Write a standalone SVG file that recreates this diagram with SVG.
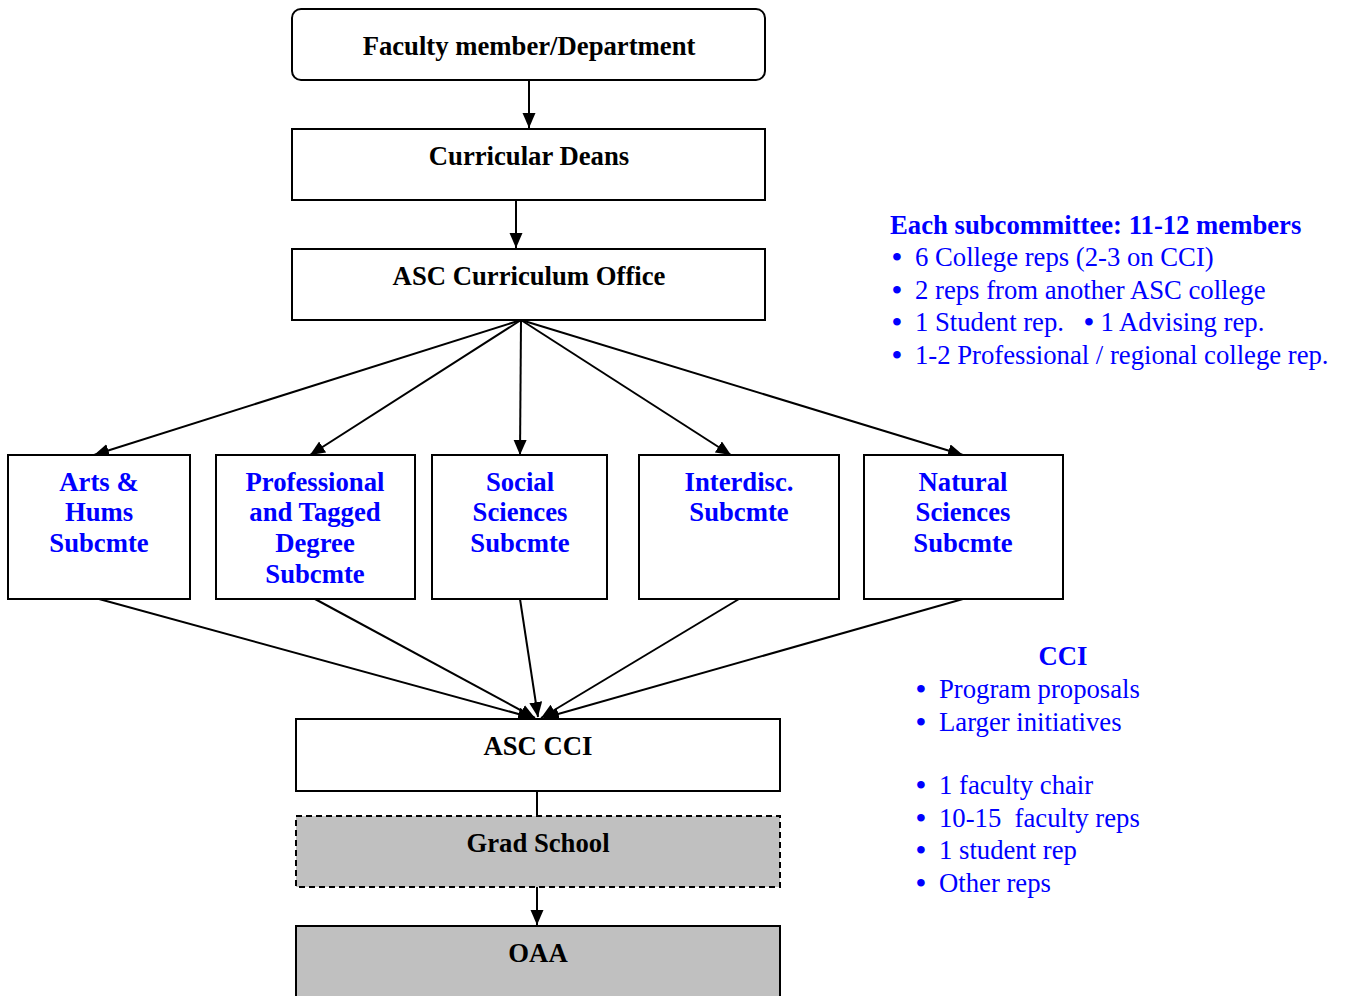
<svg xmlns="http://www.w3.org/2000/svg" width="1345" height="996" viewBox="0 0 1345 996">
<style>
.box{fill:#fff;stroke:#000;stroke-width:2}
.grey{fill:#c0c0c0;stroke:#000;stroke-width:2}
.dash{stroke-dasharray:6,4}
.lbl{font-family:"Liberation Serif","Times New Roman",serif;font-weight:bold;font-size:26.7px;fill:#000;text-anchor:middle}
.blue{fill:#0000ff}
.note{font-family:"Liberation Serif","Times New Roman",serif;font-size:26.7px;fill:#0000ff}
.noteb{font-weight:bold}
.bul{font-size:28px;font-weight:bold}
.conn line{stroke:#000;stroke-width:2;fill:none}
</style>
<defs>
<marker id="ah" markerUnits="userSpaceOnUse" markerWidth="16" markerHeight="14" refX="15" refY="6.5" orient="auto">
<path d="M0,0 L15,6.5 L0,13 z" fill="#000"/>
</marker>
</defs>
<g class="conn" id="connectors">
<line x1="529" y1="80" x2="529" y2="128" marker-end="url(#ah)"/>
<line x1="516" y1="200" x2="516" y2="248" marker-end="url(#ah)"/>
<line x1="521" y1="320" x2="94" y2="455" marker-end="url(#ah)"/>
<line x1="521" y1="320" x2="310" y2="455" marker-end="url(#ah)"/>
<line x1="521" y1="320" x2="520" y2="455" marker-end="url(#ah)"/>
<line x1="521" y1="320" x2="731" y2="455" marker-end="url(#ah)"/>
<line x1="521" y1="320" x2="963" y2="455" marker-end="url(#ah)"/>
<line x1="99" y1="599" x2="533" y2="718" marker-end="url(#ah)"/>
<line x1="315" y1="599" x2="535" y2="718" marker-end="url(#ah)"/>
<line x1="520" y1="599" x2="538" y2="717" marker-end="url(#ah)"/>
<line x1="739" y1="599" x2="541" y2="718" marker-end="url(#ah)"/>
<line x1="963" y1="599" x2="544" y2="718" marker-end="url(#ah)"/>
<line x1="537" y1="791" x2="537" y2="816"/>
<line x1="537" y1="887" x2="537" y2="925" marker-end="url(#ah)"/>
</g>
<g id="faculty">
<rect class="box" x="292" y="9" width="473" height="71" rx="9"/>
<text class="lbl" x="529" y="55">Faculty member/Department</text>
</g>
<g id="deans">
<rect class="box" x="292" y="129" width="473" height="71"/>
<text class="lbl" x="529" y="165">Curricular Deans</text>
</g>
<g id="office">
<rect class="box" x="292" y="249" width="473" height="71"/>
<text class="lbl" x="529" y="285">ASC Curriculum Office</text>
</g>
<g id="arts">
<rect class="box" x="8" y="455" width="182" height="144"/>
<text class="lbl blue" x="99" y="491">Arts &amp;</text>
<text class="lbl blue" x="99" y="521">Hums</text>
<text class="lbl blue" x="99" y="552">Subcmte</text>
</g>
<g id="professional">
<rect class="box" x="216" y="455" width="199" height="144"/>
<text class="lbl blue" x="315" y="491">Professional</text>
<text class="lbl blue" x="315" y="521">and Tagged</text>
<text class="lbl blue" x="315" y="552">Degree</text>
<text class="lbl blue" x="315" y="583">Subcmte</text>
</g>
<g id="social">
<rect class="box" x="432" y="455" width="175" height="144"/>
<text class="lbl blue" x="520" y="491">Social</text>
<text class="lbl blue" x="520" y="521">Sciences</text>
<text class="lbl blue" x="520" y="552">Subcmte</text>
</g>
<g id="interdisc">
<rect class="box" x="639" y="455" width="200" height="144"/>
<text class="lbl blue" x="739" y="491">Interdisc.</text>
<text class="lbl blue" x="739" y="521">Subcmte</text>
</g>
<g id="natural">
<rect class="box" x="864" y="455" width="199" height="144"/>
<text class="lbl blue" x="963" y="491">Natural</text>
<text class="lbl blue" x="963" y="521">Sciences</text>
<text class="lbl blue" x="963" y="552">Subcmte</text>
</g>
<g id="cci">
<rect class="box" x="296" y="719" width="484" height="72"/>
<text class="lbl" x="538" y="755">ASC CCI</text>
</g>
<g id="grad">
<rect class="grey dash" x="296" y="816" width="484" height="71"/>
<text class="lbl" x="538" y="852">Grad School</text>
</g>
<g id="oaa">
<rect class="grey" x="296" y="926" width="484" height="80"/>
<text class="lbl" x="538" y="962">OAA</text>
</g>
<g id="subcommittee-note" class="note">
<text class="noteb" x="890" y="234">Each subcommittee: 11-12 members</text>
<text x="892" y="266"><tspan class="bul">•</tspan><tspan x="915">6 College reps (2-3 on CCI)</tspan></text>
<text x="892" y="299"><tspan class="bul">•</tspan><tspan x="915">2 reps from another ASC college</tspan></text>
<text x="892" y="331" xml:space="preserve"><tspan class="bul">•</tspan><tspan x="915">1 Student rep.   </tspan><tspan class="bul">•</tspan><tspan> 1 Advising rep.</tspan></text>
<text x="892" y="364"><tspan class="bul">•</tspan><tspan x="915">1-2 Professional / regional college rep.</tspan></text>
</g>
<g id="cci-note" class="note">
<text class="noteb" x="1063" y="665" text-anchor="middle">CCI</text>
<text x="916" y="698"><tspan class="bul">•</tspan><tspan x="939">Program proposals</tspan></text>
<text x="916" y="731"><tspan class="bul">•</tspan><tspan x="939">Larger initiatives</tspan></text>
<text x="916" y="794"><tspan class="bul">•</tspan><tspan x="939">1 faculty chair</tspan></text>
<text x="916" y="827" xml:space="preserve"><tspan class="bul">•</tspan><tspan x="939">10-15  faculty reps</tspan></text>
<text x="916" y="859"><tspan class="bul">•</tspan><tspan x="939">1 student rep</tspan></text>
<text x="916" y="892"><tspan class="bul">•</tspan><tspan x="939">Other reps</tspan></text>
</g>
</svg>
